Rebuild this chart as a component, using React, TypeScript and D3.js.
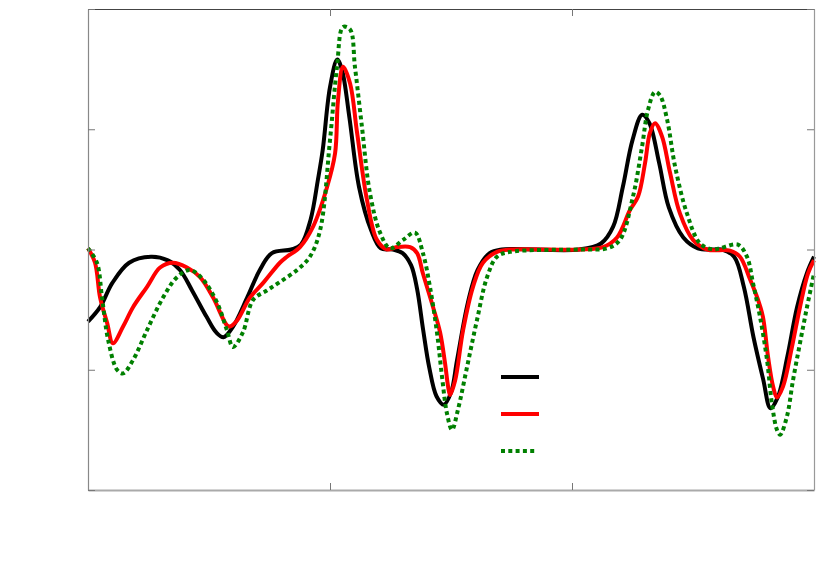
import { useRef, useEffect } from "react";
import * as d3 from "d3";

// three runs of the same signal (x in [0,3], y in [-2,2])
const blackSeries: [number, number][] = [
  [0, -0.6], [0.05, -0.48], [0.1, -0.28], [0.17, -0.11], [0.26, -0.06], [0.33, -0.09],
  [0.38, -0.17], [0.43, -0.34], [0.49, -0.56], [0.53, -0.69], [0.56, -0.73], [0.6, -0.64],
  [0.66, -0.39], [0.71, -0.17], [0.76, -0.03], [0.84, 0], [0.88, 0.04], [0.92, 0.25],
  [0.95, 0.58], [0.97, 0.83], [1.0, 1.35], [1.03, 1.58], [1.05, 1.49], [1.08, 1.1],
  [1.12, 0.52], [1.17, 0.16], [1.21, 0.01], [1.26, 0], [1.3, -0.03], [1.335, -0.13],
  [1.36, -0.33], [1.385, -0.67], [1.41, -0.98], [1.44, -1.22], [1.47, -1.29], [1.5, -1.19],
  [1.525, -0.92], [1.57, -0.44], [1.61, -0.17], [1.66, -0.03], [1.71, 0], [2.03, 0],
  [2.12, 0.05], [2.17, 0.19], [2.21, 0.52], [2.25, 0.91], [2.29, 1.12], [2.32, 1.05],
  [2.36, 0.72], [2.4, 0.35], [2.46, 0.1], [2.52, 0.01], [2.58, 0], [2.62, 0], [2.67, -0.06],
  [2.71, -0.31], [2.75, -0.73], [2.79, -1.08], [2.82, -1.32], [2.85, -1.23], [2.89, -0.89],
  [2.93, -0.48], [2.97, -0.2], [3.0, -0.06],
];

const redSeries: [number, number][] = [
  [0, 0.01], [0.029, -0.11], [0.05, -0.4], [0.079, -0.61], [0.103, -0.78], [0.145, -0.64],
  [0.186, -0.48], [0.244, -0.31], [0.298, -0.15], [0.351, -0.11], [0.409, -0.15], [0.463, -0.23],
  [0.517, -0.4], [0.574, -0.63], [0.587, -0.64], [0.616, -0.59], [0.669, -0.4], [0.723, -0.28],
  [0.793, -0.11], [0.822, -0.06], [0.876, 0.02], [0.93, 0.19], [0.988, 0.52], [1.021, 0.8],
  [1.033, 1.24], [1.054, 1.52], [1.083, 1.38], [1.112, 0.97], [1.153, 0.41], [1.194, 0.08],
  [1.236, 0], [1.277, 0.02], [1.331, 0.02], [1.36, -0.03], [1.384, -0.2], [1.426, -0.48],
  [1.455, -0.69], [1.475, -0.94], [1.488, -1.14], [1.496, -1.21], [1.517, -1.09], [1.55, -0.67],
  [1.591, -0.31], [1.632, -0.11], [1.69, -0.02], [1.744, 0], [2.033, 0], [2.128, 0.02],
  [2.186, 0.1], [2.24, 0.33], [2.273, 0.44], [2.302, 0.72], [2.322, 0.97], [2.343, 1.05],
  [2.372, 0.94], [2.405, 0.64], [2.446, 0.3], [2.5, 0.08], [2.558, 0], [2.653, -0.01],
  [2.694, -0.06], [2.736, -0.25], [2.769, -0.42], [2.789, -0.56], [2.81, -0.89], [2.831, -1.14],
  [2.847, -1.23], [2.872, -1.14], [2.909, -0.81], [2.942, -0.48], [2.975, -0.2], [3.0, -0.09],
];

const greenSeries: [number, number][] = [
  [0, 0.01], [0.037, -0.11], [0.058, -0.4], [0.083, -0.75], [0.12, -1.0], [0.145, -1.03],
  [0.186, -0.92], [0.244, -0.67], [0.31, -0.4], [0.368, -0.23], [0.421, -0.17], [0.475, -0.25],
  [0.533, -0.44], [0.574, -0.67], [0.599, -0.81], [0.64, -0.69], [0.682, -0.42], [0.74, -0.34],
  [0.793, -0.27], [0.864, -0.17], [0.917, -0.06], [0.959, 0.16], [1.0, 0.91], [1.029, 1.52],
  [1.054, 1.85], [1.083, 1.83], [1.103, 1.52], [1.132, 1.02], [1.165, 0.47], [1.207, 0.14],
  [1.248, 0.01], [1.302, 0.08], [1.351, 0.14], [1.384, -0.03], [1.413, -0.31], [1.442, -0.69],
  [1.463, -1.06], [1.483, -1.36], [1.504, -1.5], [1.529, -1.33], [1.566, -0.98], [1.607, -0.59],
  [1.649, -0.23], [1.69, -0.06], [1.744, -0.02], [2.033, 0], [2.145, 0.01], [2.198, 0.08],
  [2.252, 0.44], [2.289, 0.85], [2.314, 1.16], [2.343, 1.31], [2.364, 1.28], [2.393, 1.08],
  [2.426, 0.69], [2.475, 0.3], [2.529, 0.05], [2.583, 0], [2.612, 0.01], [2.686, 0.04],
  [2.723, -0.06], [2.748, -0.28], [2.777, -0.56], [2.806, -0.92], [2.826, -1.28], [2.847, -1.5],
  [2.86, -1.54], [2.888, -1.39], [2.913, -1.09], [2.942, -0.78], [2.971, -0.48], [3.0, -0.2],
];

const xTicks = [0, 1, 2, 3];
const yTicks = [-2, -1, 0, 1, 2];

const seriesList = [
  { name: "black", data: blackSeries, color: "#000000", dash: null },
  { name: "red", data: redSeries, color: "#ff0000", dash: null },
  { name: "green", data: greenSeries, color: "#008000", dash: "4 3.3" },
];

const width = 830,
  height = 574,
  marginTop = 9,
  marginRight = 16,
  marginBottom = 84,
  marginLeft = 88;

export default function App() {
  const gxBottom = useRef<SVGGElement>(null),
    gxTop = useRef<SVGGElement>(null),
    gyLeft = useRef<SVGGElement>(null),
    gyRight = useRef<SVGGElement>(null);

  const x = d3.scaleLinear().domain([0, 3]).range([marginLeft, width - marginRight]);
  const y = d3.scaleLinear().domain([-2, 2]).range([height - marginBottom, marginTop]);

  const line = d3
    .line<[number, number]>()
    .x((d) => x(d[0]))
    .y((d) => y(d[1]))
    .curve(d3.curveCatmullRom.alpha(0.5));

  useEffect(() => {
    const style = (g: any, color: string, w: number) => {
      g.select(".domain").attr("stroke", color).attr("stroke-width", w);
      g.selectAll(".tick line").attr("stroke", "#777");
      g.selectAll(".tick text").remove();
    };
    d3.select(gxBottom.current)
      .call(d3.axisBottom(x).tickValues(xTicks).tickSizeInner(-7).tickSizeOuter(0))
      .call((g) => style(g, "#aaa", 2));
    d3.select(gxTop.current)
      .call(d3.axisTop(x).tickValues(xTicks).tickSizeInner(-7).tickSizeOuter(0))
      .call((g) => style(g, "#444", 1));
    d3.select(gyLeft.current)
      .call(d3.axisLeft(y).tickValues(yTicks).tickSizeInner(-7).tickSizeOuter(0))
      .call((g) => style(g, "#888", 1.2));
    d3.select(gyRight.current)
      .call(d3.axisRight(y).tickValues(yTicks).tickSizeInner(-7).tickSizeOuter(0))
      .call((g) => style(g, "#999", 1.2));
    // eslint-disable-next-line
  }, []);

  const legendX = 501,
    legendY = 377,
    legendStep = 37;

  return (
    <svg
      width={width}
      height={height}
      viewBox={`0 0 ${width} ${height}`}
      style={{ position: "absolute", left: 0, top: 0, background: "#fff" }}
    >
      {seriesList.map((s) => (
        <path
          key={s.name}
          d={line(s.data) || ""}
          fill="none"
          stroke={s.color}
          strokeWidth={4}
          strokeDasharray={s.dash || undefined}
          strokeLinejoin="round"
        />
      ))}
      <g ref={gxBottom} transform={`translate(0,${height - marginBottom})`} />
      <g ref={gxTop} transform={`translate(0,${marginTop})`} />
      <g ref={gyLeft} transform={`translate(${marginLeft},0)`} />
      <g ref={gyRight} transform={`translate(${width - marginRight},0)`} />
      <g>
        {seriesList.map((s, i) => (
          <line
            key={s.name}
            x1={legendX}
            x2={s.dash ? legendX + 35 : legendX + 38}
            y1={legendY + i * legendStep}
            y2={legendY + i * legendStep}
            stroke={s.color}
            strokeWidth={4}
            strokeDasharray={s.dash || undefined}
          />
        ))}
      </g>
    </svg>
  );
}
